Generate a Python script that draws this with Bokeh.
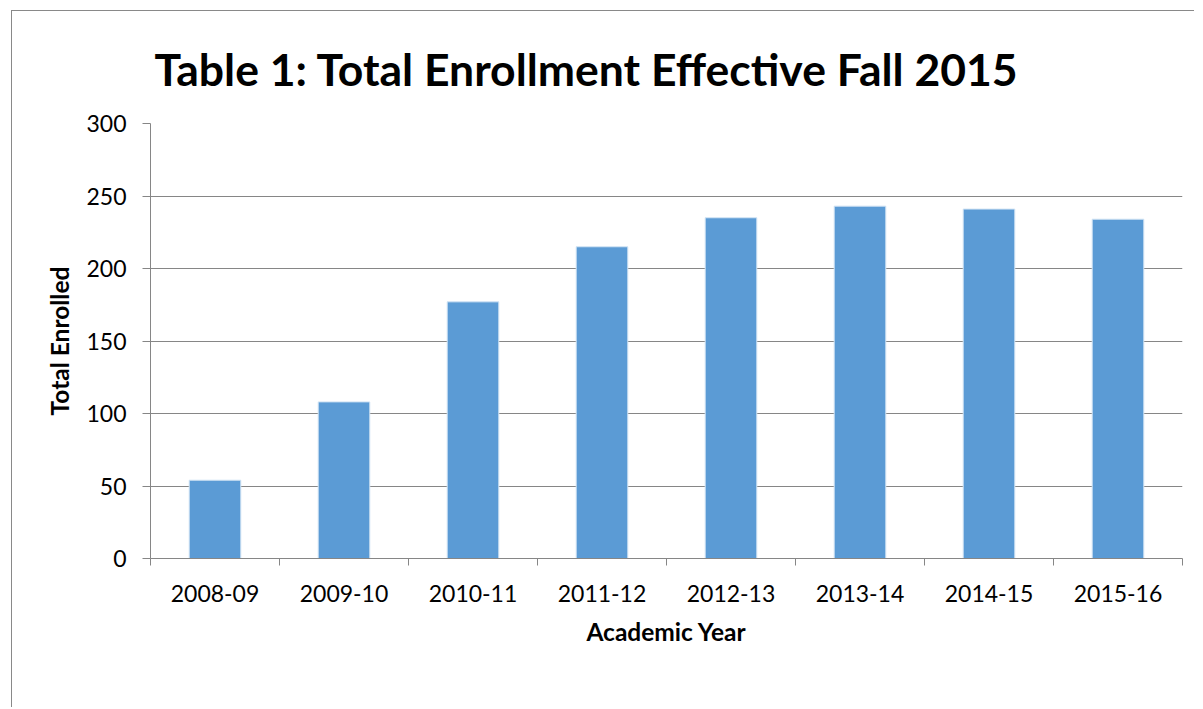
from bokeh.plotting import figure
from bokeh.models import FixedTicker, Range1d
from bokeh.embed import file_html
from bokeh.resources import INLINE

years = ["2008-09", "2009-10", "2010-11", "2011-12", "2012-13", "2013-14", "2014-15", "2015-16"]
enrolled = [54, 108, 177, 215, 235, 243, 241, 234]
y_ticks = [0, 50, 100, 150, 200, 250, 300]

title_text = "Table 1: Total Enrollment Effective Fall 2015"
x_title = "Academic Year"
y_title = "Total Enrolled"

GRAY = "#868686"
FONT = "Lato"

x_pos = list(range(len(years)))
boundaries = [i - 0.5 for i in range(len(years) + 1)]

p = figure(width=1183, height=697, output_backend="svg", toolbar_location=None,
           x_range=Range1d(-0.5, len(years) - 0.5), y_range=Range1d(y_ticks[0], y_ticks[-1]),
           min_border_left=138, min_border_right=13, min_border_top=112, min_border_bottom=150,
           title=title_text)
p.styles = {"margin-left": "11px", "margin-top": "10px",
            "border-left": "1px solid #898989", "border-top": "1px solid #898989"}
p.outline_line_color = None
p.background_fill_color = "white"
p.border_fill_color = "white"

p.vbar(x=x_pos, top=enrolled, width=0.4, fill_color="#5B9BD5", line_color="#d2e4f4", line_width=1)

# title
p.title.text_font = FONT
p.title.text_font_style = "bold"
p.title.text_font_size = "44.5px"
p.title.text_color = "black"
p.title.align = "left"
p.title.offset = 4
p.title.standoff = 57

# x axis
xa = p.xaxis[0]
xa.ticker = FixedTicker(ticks=x_pos, minor_ticks=boundaries)
xa.major_label_overrides = {i: y for i, y in zip(x_pos, years)}
xa.major_tick_line_color = None
xa.minor_tick_line_color = GRAY
xa.minor_tick_in = 0
xa.minor_tick_out = 7
xa.axis_line_color = GRAY
xa.major_label_text_font = FONT
xa.major_label_text_font_size = "23px"
xa.major_label_text_color = "black"
xa.major_label_standoff = 19
xa.axis_label = x_title
xa.axis_label_text_font = FONT
xa.axis_label_text_font_style = "bold"
xa.axis_label_text_font_size = "24.5px"
xa.axis_label_text_color = "black"
xa.axis_label_standoff = 12

# y axis
ya = p.yaxis[0]
ya.ticker = FixedTicker(ticks=y_ticks)
ya.minor_tick_line_color = None
ya.major_tick_line_color = GRAY
ya.major_tick_in = 0
ya.major_tick_out = 8
ya.axis_line_color = GRAY
ya.major_label_text_font = FONT
ya.major_label_text_font_size = "23px"
ya.major_label_text_color = "black"
ya.major_label_standoff = 16
ya.axis_label = y_title
ya.axis_label_text_font = FONT
ya.axis_label_text_font_style = "bold"
ya.axis_label_text_font_size = "24.5px"
ya.axis_label_text_color = "black"
ya.axis_label_standoff = 9

p.xgrid.visible = False
p.ygrid.ticker = FixedTicker(ticks=y_ticks)
p.ygrid.grid_line_color = GRAY
p.ygrid.grid_line_width = 1

open("out.html", "w").write(file_html(p, INLINE))
